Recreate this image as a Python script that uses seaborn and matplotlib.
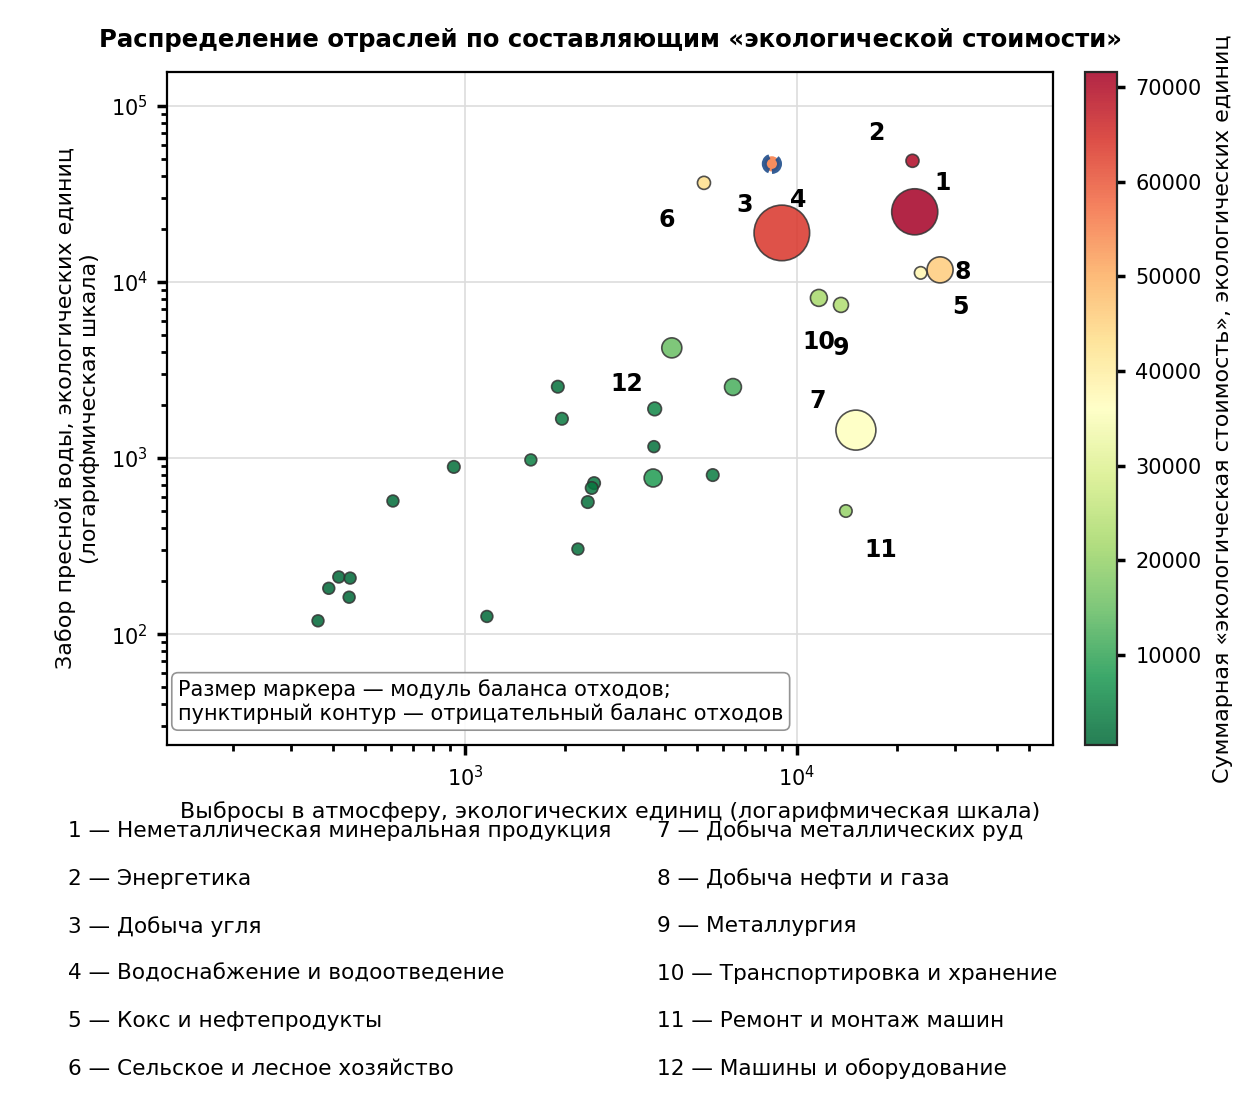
import numpy as np
import matplotlib
matplotlib.use("Agg")
import matplotlib.pyplot as plt
import seaborn as sns
import pandas as pd

sns.set_theme(style="white")
plt.rcParams['font.family'] = ['DejaVu Sans']
plt.rcParams.update({'text.color': 'black', 'axes.labelcolor': 'black',
                     'xtick.color': 'black', 'ytick.color': 'black'})

air = [22650, 22300, 8410, 5250, 9010, 27000, 23600, 11650, 13580, 4200, 6420, 15060, 14050,
       1905, 3730, 1960, 3710, 3690, 5580, 1580, 926, 2450, 2410, 2345, 607, 2190, 1165,
       417, 451, 389, 448, 361]
water = [25000, 48700, 46800, 36500, 18970, 11700, 11250, 8110, 7400, 4220, 2530, 1440, 500,
         2540, 1900, 1670, 1160, 770, 800, 975, 890, 720, 676, 562, 570, 304, 126,
         211, 208, 182, 162, 119]
waste = [275, 22, 30, 22, 400, 88, 20, 37, 29, 52, 37, 207, 20,
         20, 24, 20, 18, 42, 20, 18, 20, 20, 20, 20, 18, 18, 18, 18, 18, 18, 18, 18]
total = [72000, 70000, 55000, 43000, 64000, 46000, 38000, 22000, 23000, 15000, 12000, 36000, 20000,
         2000, 5000, 3000, 2000, 8000, 3500, 4000, 1500, 2500, 2500, 1800, 1200, 1800, 900,
         600, 600, 600, 600, 500]
negative = [False, False, True] + [False] * 29

lab_text = ["1", "2", "3", "4", "5", "6", "7", "8", "9", "10", "11", "12"]
lab_x = [27500, 17300, 6970, 10070, 31000, 4060, 11560, 31600, 13580, 11650, 17900, 3070]
lab_y = [36500, 70300, 27400, 29200, 7210, 22500, 2110, 11400, 4220, 4560, 300, 2630]

names = ["Неметаллическая минеральная продукция", "Энергетика", "Добыча угля",
         "Водоснабжение и водоотведение", "Кокс и нефтепродукты", "Сельское и лесное хозяйство",
         "Добыча металлических руд", "Добыча нефти и газа", "Металлургия",
         "Транспортировка и хранение", "Ремонт и монтаж машин", "Машины и оборудование"]

df = pd.DataFrame(dict(air=air, water=water, waste=waste, total=total, neg=negative))

fig = plt.figure(figsize=(6.2, 5.52), dpi=200)
ax = fig.add_axes([0.135, 0.325, 0.714, 0.61])
cax = fig.add_axes([0.875, 0.325, 0.026, 0.61])

vmin, vmax = 470, 71600
norm = matplotlib.colors.Normalize(vmin, vmax)
cmap = plt.get_cmap("RdYlGn_r")
order = df.sort_values("waste", ascending=False).index
d = df.loc[order]
pos = d[~d.neg]
neg = d[d.neg]
ax.scatter(pos.air, pos.water, s=pos.waste, c=pos.total, cmap=cmap, norm=norm,
           edgecolors="#333333", linewidths=0.6, alpha=0.85, zorder=3)
ax.scatter(neg.air, neg.water, s=neg.waste, c=neg.total, cmap=cmap, norm=norm,
           edgecolors="#1f4e8c", linewidths=1.8, linestyle="--", alpha=0.9, zorder=3)
ax.set_xscale("log"); ax.set_yscale("log")
ax.set_xlim(127, 59000); ax.set_ylim(23.4, 156000)
ax.grid(True, which="major", color="#dddddd", lw=0.6)
for s in ax.spines.values():
    s.set_color("black"); s.set_linewidth(0.8)
ax.tick_params(which="both", direction="out", labelsize=7.5, bottom=True, left=True, color="black")
ax.tick_params(which="minor", length=2)
ax.tick_params(which="major", length=3.5)

for t, x, y in zip(lab_text, lab_x, lab_y):
    ax.text(x, y, t, fontsize=8.5, fontweight="bold", ha="center", va="center", zorder=4)

ax.set_xlabel("Выбросы в атмосферу, экологических единиц (логарифмическая шкала)", fontsize=8)
ax.set_ylabel("Забор пресной воды, экологических единиц\n(логарифмическая шкала)", fontsize=8)
ax.set_title("Распределение отраслей по составляющим «экологической стоимости»",
             fontsize=8.8, fontweight="bold", pad=9)
ax.text(0.012, 0.065, "Размер маркера — модуль баланса отходов;\nпунктирный контур — отрицательный баланс отходов",
        transform=ax.transAxes, fontsize=7.5, va="center", ha="left",
        bbox=dict(boxstyle="round,pad=0.3", fc="white", ec="#888888", lw=0.6, alpha=0.9), zorder=5)

sm = matplotlib.cm.ScalarMappable(norm=norm, cmap=cmap)
cb = fig.colorbar(sm, cax=cax, alpha=0.85)
cb.set_ticks([10000, 20000, 30000, 40000, 50000, 60000, 70000])
cb.ax.tick_params(labelsize=7.5, length=3)
cb.outline.set_linewidth(0.8)
cb.set_label("Суммарная «экологическая стоимость», экологических единиц", fontsize=8)

for i, n in enumerate(names):
    col = i // 6; row = i % 6
    fig.text(0.055 + col * 0.475, 1 - (831 + row * 47.6) / 1104, f"{i+1} — {n}",
             fontsize=7.8, va="center", ha="left")

fig.savefig("out.png", dpi=200)
